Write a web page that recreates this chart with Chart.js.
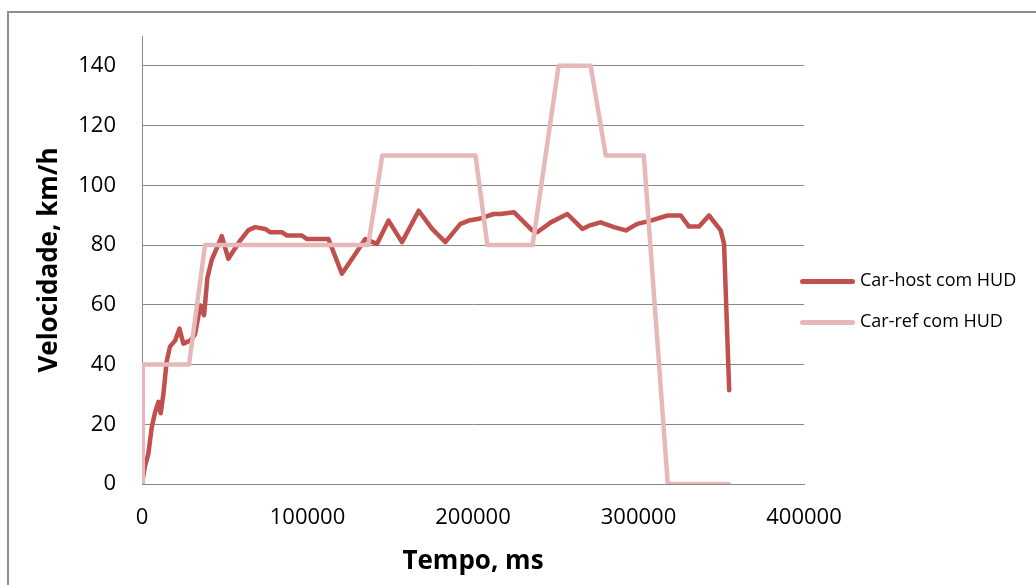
<!DOCTYPE html>
<html>
<head>
<meta charset="utf-8">
<script src="https://cdn.jsdelivr.net/npm/chart.js@4"></script>
<style>
  body { margin: 0; background: #fff; }
  #wrap { position: relative; width: 1036px; height: 585px; overflow: hidden; }
  #frame { position: absolute; left: 7px; top: 11px; width: 1100px; height: 700px; border: 2px solid #8e8e8e; }
  #chart { position: absolute; left: 0; top: 0; }
  .leg { position: absolute; left: 800px; font: 18px "Open Sans", sans-serif; color: #000; white-space: nowrap; }
  .leg i { display: inline-block; width: 55px; height: 5px; border-radius: 3px; vertical-align: middle; margin-right: 5px; }
</style>
</head>
<body>
<div id="wrap">
  <div id="frame"></div>
  <canvas id="chart" width="1036" height="585"></canvas>
  <div class="leg" style="top:267px"><i style="background:#C0504D"></i>Car-host com HUD</div>
  <div class="leg" style="top:308px"><i style="background:#E6B9B8"></i>Car-ref com HUD</div>
</div>
<script>
const hostTime = [0, 1800, 3800, 5900, 7900, 9900, 11300, 12900, 14900, 16900, 20000, 22600, 25000, 29000, 32000, 35300, 37500, 39500, 42100, 45200, 48200, 52200, 59300, 64300, 68400, 74400, 77400, 84500, 87600, 96600, 99700, 112700, 120800, 128900, 134900, 142000, 149000, 157100, 167200, 175300, 183300, 192400, 197500, 203500, 212600, 216600, 224700, 235800, 238800, 247000, 257000, 266100, 270100, 277100, 285200, 292300, 299300, 307400, 317500, 325600, 330500, 336600, 342600, 349700, 351700, 354800];
const hostSpeed = [0, 6, 10, 19, 24, 27.5, 23.7, 30, 41, 46, 48, 52, 47, 48, 50, 59.8, 56.5, 69, 75, 79, 83, 75.4, 81.5, 85, 86, 85.4, 84.3, 84.3, 83.2, 83.2, 82, 82, 70.4, 77, 82, 80.4, 88.2, 81, 91.5, 85.4, 81, 87.1, 88.2, 88.8, 90.4, 90.4, 91, 84.9, 84.3, 87.6, 90.4, 85.4, 86.5, 87.6, 86, 84.9, 87.1, 88.2, 89.9, 89.9, 86.2, 86.2, 89.9, 84.9, 80.4, 31.4];

const refTime = [0, 500, 28400, 38100, 136700, 145200, 201500, 208700, 236000, 251700, 271100, 280200, 303200, 317700, 354600];
const refSpeed = [0, 40, 40, 80, 80, 110, 110, 80, 80, 140, 140, 110, 110, 0, 0];

const seriesNames = ["Car-host com HUD", "Car-ref com HUD"];
const yTicks = [0, 20, 40, 60, 80, 100, 120, 140];
const xTicks = [0, 100000, 200000, 300000, 400000];

const toPoints = (xs, ys) => xs.map((x, i) => ({ x: x, y: ys[i] }));

const ctx = document.getElementById("chart").getContext("2d");
const gridColor = "#888888";

const chart = new Chart(ctx, {
  type: "line",
  data: {
    datasets: [
      {
        label: seriesNames[0],
        data: toPoints(hostTime, hostSpeed),
        borderColor: "#C0504D",
        borderWidth: 4.5,
        order: 1,
      },
      {
        label: seriesNames[1],
        data: toPoints(refTime, refSpeed),
        borderColor: "#E6B9B8",
        borderWidth: 4.5,
        order: 0, // drawn on top, like the reference
      },
    ],
  },
  options: {
    responsive: false,
    animation: false,
    elements: {
      point: { radius: 0 },
      line: { tension: 0, borderJoinStyle: "round", borderCapStyle: "round" },
    },
    layout: { padding: { left: 0, top: 36, right: 232, bottom: 0 } },
    plugins: { legend: { display: false }, tooltip: { enabled: false } },
    scales: {
      x: {
        type: "linear",
        min: 0,
        max: 400000,
        afterFit: (s) => {
          s.height = 101;
          s.paddingLeft = 0;
          s.paddingRight = 0;
        },
        afterBuildTicks: (s) => { s.ticks = xTicks.map((v) => ({ value: v })); },
        grid: { display: false, drawTicks: false },
        border: { display: true, color: gridColor, width: 1 },
        ticks: {
          padding: 21,
          color: "#000",
          font: { family: "Open Sans", size: 22 },
          callback: (v) => String(v),
        },
        title: {
          display: true,
          text: "Tempo, ms",
          color: "#000",
          font: { family: "Open Sans", size: 26, weight: "bold" },
          padding: { top: 0, bottom: 8 },
        },
      },
      y: {
        min: 0,
        max: 150,
        afterFit: (s) => {
          s.width = 142;
          s.paddingTop = 0;
          s.paddingBottom = 0;
        },
        afterBuildTicks: (s) => { s.ticks = yTicks.map((v) => ({ value: v })); },
        grid: { color: gridColor, lineWidth: 1, drawTicks: false },
        border: { display: true, color: gridColor, width: 1 },
        ticks: {
          padding: 26,
          color: "#000",
          font: { family: "Open Sans", size: 22 },
        },
        title: {
          display: true,
          text: "Velocidade, km/h",
          color: "#000",
          font: { family: "Open Sans", size: 26, weight: "bold" },
          padding: { top: 34, bottom: 0 },
        },
      },
    },
  },
});
</script>
</body>
</html>
